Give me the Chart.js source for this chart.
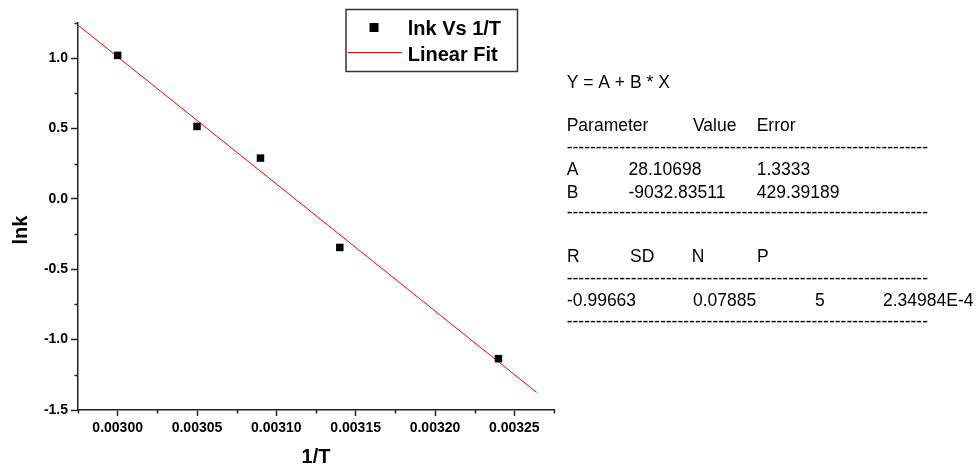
<!DOCTYPE html>
<html>
<head>
<meta charset="utf-8">
<script src="https://cdn.jsdelivr.net/npm/chart.js@4.4.0/dist/chart.umd.min.js"></script>
<style>
  html, body { margin: 0; padding: 0; background: #fff; }
  #wrap { position: relative; width: 980px; height: 467px; }
</style>
</head>
<body>
<div id="wrap"><canvas id="arrhenius"></canvas></div>
<script>
// measured points (1/T vs lnk)
const invT = [0.00300, 0.00305, 0.00309, 0.00314, 0.00324];
const lnk = [1.02, 0.515, 0.29, -0.345, -1.135];

// end points of the fitted line
const fitX = [0.002975, 0.003264];
const fitY = [1.235, -1.374];

// axes
const xRange = [0.002975, 0.003275];
const yRange = [-1.5, 1.25];
const xTicks = [0.00300, 0.00305, 0.00310, 0.00315, 0.00320, 0.00325];
const xMinor = [0.002975, 0.003025, 0.003075, 0.003125, 0.003175, 0.003225, 0.003275];
const yTicks = [-1.5, -1.0, -0.5, 0.0, 0.5, 1.0];
const yMinor = [-1.25, -0.75, -0.25, 0.25, 0.75, 1.25];

// fit report
const fitEquation = 'Y = A + B * X';
const paramHeader = ['Parameter', 'Value', 'Error'];
const paramNames = ['A', 'B'];
const paramValues = ['28.10698', '-9032.83511'];
const paramErrors = ['1.3333', '429.39189'];
const statNames = ['R', 'SD', 'N', 'P'];
const statValues = ['-0.99663', '0.07885', '5', '2.34984E-4'];

const FONT = '"Liberation Sans", Arial, sans-serif';
const axisColor = '#222';

// small minor ticks, Origin style
const minorTicks = {
    id: 'minorTicks',
    afterDraw(chart) {
        const { ctx, scales: { x, y } } = chart;
        ctx.save();
        ctx.strokeStyle = axisColor;
        ctx.lineWidth = 1.5;
        ctx.beginPath();
        xMinor.forEach(v => {
            const px = Math.round(x.getPixelForValue(v)) + 0.5;
            ctx.moveTo(px, x.top);
            ctx.lineTo(px, x.top + 3.5);
        });
        yMinor.forEach(v => {
            const py = Math.round(y.getPixelForValue(v)) + 0.5;
            ctx.moveTo(y.right, py);
            ctx.lineTo(y.right - 3.5, py);
        });
        ctx.stroke();

        // y title
        ctx.translate(21, 230);
        ctx.rotate(-Math.PI / 2);
        ctx.font = 'bold 20px ' + FONT;
        ctx.fillStyle = '#000';
        ctx.textAlign = 'center';
        ctx.textBaseline = 'middle';
        ctx.fillText('lnk', 0, 0);
        ctx.restore();
    }
};

const legendBox = {
    id: 'legendBox',
    afterDraw(chart) {
        const ctx = chart.ctx;
        const [pts, fit] = chart.data.datasets;
        ctx.save();
        ctx.fillStyle = '#fff';
        ctx.fillRect(346, 9.5, 171.5, 62);
        ctx.strokeStyle = '#333';
        ctx.lineWidth = 1.5;
        ctx.strokeRect(346, 9.5, 171.5, 62);

        ctx.fillStyle = pts.backgroundColor;
        ctx.fillRect(369.5, 23, 9, 9);

        ctx.strokeStyle = fit.borderColor;
        ctx.lineWidth = 1;
        ctx.beginPath();
        ctx.moveTo(347.7, 52.5);
        ctx.lineTo(401.7, 52.5);
        ctx.stroke();

        ctx.font = 'bold 20px ' + FONT;
        ctx.fillStyle = '#000';
        ctx.fillText(pts.label, 407.7, 35);
        ctx.fillText(fit.label, 407.7, 60.7);
        ctx.restore();
    }
};

const statsPanel = {
    id: 'statsPanel',
    afterDraw(chart) {
        const ctx = chart.ctx;
        ctx.save();
        ctx.font = '17.5px ' + FONT;
        ctx.fillStyle = '#000';
        ctx.textBaseline = 'alphabetic';
        const put = (t, x, yc) => ctx.fillText(t, x, yc + 6.3);
        const dashW = ctx.measureText('-').width;
        const dashes = yd => ctx.fillText('-'.repeat(Math.round(361 / dashW)), 566.7, yd + 4.7);

        put(fitEquation, 566.7, 81.4);
        [566.7, 693, 756.7].forEach((x, i) => put(paramHeader[i], x, 125));
        dashes(148.3);
        paramNames.forEach((n, i) => {
            const yc = 168.3 + i * 23.4;
            put(n, 566.7, yc);
            put(paramValues[i], 628.5, yc);
            put(paramErrors[i], 756.7, yc);
        });
        dashes(213.3);
        [567, 630, 691.7, 757].forEach((x, i) => put(statNames[i], x, 255.7));
        dashes(279);
        [567, 693, 815, 883].forEach((x, i) => put(statValues[i], x, 300));
        dashes(322);
        ctx.restore();
    }
};

const tickFont = { family: FONT, size: 14, weight: 'bold' };

new Chart(document.getElementById('arrhenius'), {
    type: 'scatter',
    data: {
        datasets: [{
            label: 'lnk Vs 1/T',
            data: invT.map((x, i) => ({ x, y: lnk[i] })),
            pointStyle: 'rect',
            pointRadius: 5.3,
            backgroundColor: '#000',
            borderWidth: 0
        }, {
            label: 'Linear Fit',
            data: fitX.map((x, i) => ({ x, y: fitY[i] })),
            showLine: true,
            pointRadius: 0,
            borderColor: '#ff0000',
            borderWidth: 1
        }]
    },
    options: {
        responsive: true,
        maintainAspectRatio: false,
        animation: false,
        layout: { padding: { left: 0, top: 23, right: 426, bottom: 0 } },
        plugins: { legend: { display: false }, tooltip: { enabled: false } },
        scales: {
            x: {
                type: 'linear',
                min: xRange[0],
                max: xRange[1],
                afterBuildTicks: s => { s.ticks = xTicks.map(v => ({ value: v })); },
                afterFit: s => { s.height = 57; },
                border: { color: axisColor, width: 1.5 },
                grid: { drawOnChartArea: false, tickLength: 6, tickColor: axisColor, tickWidth: 1.5 },
                ticks: { color: '#000', font: tickFont, padding: 4, maxRotation: 0, autoSkip: false,
                    callback: v => v.toFixed(5) },
                title: { display: true, text: '1/T', color: '#000', padding: 0,
                    font: { family: FONT, size: 20, weight: 'bold', lineHeight: 1 } }
            },
            y: {
                min: yRange[0],
                max: yRange[1],
                afterBuildTicks: s => { s.ticks = yTicks.map(v => ({ value: v })); },
                afterFit: s => { s.width = 78; },
                border: { color: axisColor, width: 1.5 },
                grid: { drawOnChartArea: false, tickLength: 7, tickColor: axisColor, tickWidth: 1.5 },
                ticks: { color: '#000', font: tickFont, padding: 3, autoSkip: false,
                    callback: v => v.toFixed(1) }
            }
        }
    },
    plugins: [minorTicks, legendBox, statsPanel]
});
</script>
</body>
</html>
